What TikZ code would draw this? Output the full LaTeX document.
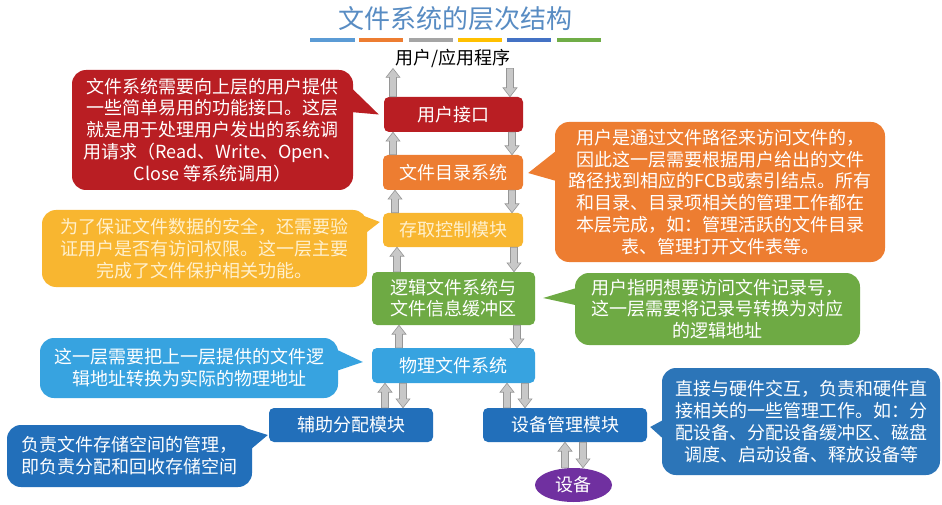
\documentclass[tikz,border=0pt]{standalone}
\usepackage{fontspec}
\setmainfont{Noto Sans CJK SC}
\usetikzlibrary{calc,shapes.geometric}
\definecolor{ctitle}{RGB}{88,140,195}
\definecolor{cred}{RGB}{185,30,35}
\definecolor{corange}{RGB}{237,125,49}
\definecolor{cgold}{RGB}{248,182,48}
\definecolor{cgoldtext}{RGB}{255,240,205}
\definecolor{cgreen}{RGB}{110,170,68}
\definecolor{clblue}{RGB}{55,163,224}
\definecolor{cdblue}{RGB}{34,111,186}
\definecolor{cmblue}{RGB}{44,117,184}
\definecolor{cpurple}{RGB}{112,48,160}
\definecolor{arrfill}{RGB}{200,200,200}
\definecolor{arrline}{RGB}{150,150,150}
\definecolor{bA}{RGB}{91,155,213}
\definecolor{bB}{RGB}{237,125,49}
\definecolor{bC}{RGB}{165,165,165}
\definecolor{bD}{RGB}{255,192,0}
\definecolor{bE}{RGB}{68,114,196}
\definecolor{bF}{RGB}{112,173,71}
\tikzset{
  layer/.style={rounded corners=5pt, inner sep=0pt, text=white, align=center,
    font=\fontsize{18}{21}\selectfont},
  bubble/.style={rounded corners=14pt, inner sep=0pt, text=white, align=center,
    font=\fontsize{18}{21.8}\selectfont},
  garr/.style={fill=arrfill, draw=arrline, line width=0.6pt},
  bar/.style={line width=4pt},
}
\newcommand\garrup[3]{\filldraw[garr] let \p1=(#2), \p2=(#3) in
  (#1pt-3.5pt,\y1) -- (#1pt-3.5pt,\y2-9pt) -- (#1pt-7pt,\y2-9pt) -- (#1pt,\y2)
  -- (#1pt+7pt,\y2-9pt) -- (#1pt+3.5pt,\y2-9pt) -- (#1pt+3.5pt,\y1) -- cycle;}
\newcommand\garrdn[3]{\filldraw[garr] let \p1=(#2), \p2=(#3) in
  (#1pt-3.5pt,\y1) -- (#1pt-3.5pt,\y2+9pt) -- (#1pt-7pt,\y2+9pt) -- (#1pt,\y2)
  -- (#1pt+7pt,\y2+9pt) -- (#1pt+3.5pt,\y2+9pt) -- (#1pt+3.5pt,\y1) -- cycle;}
\begin{document}
\begin{tikzpicture}[x=1pt,y=-1pt]
\useasboundingbox (0,0) rectangle (942,505);
\fill[white] (0,0) rectangle (942,505);

% title and bars
\node[font=\fontsize{26}{30}\selectfont, text=ctitle] (title) at (455,19) {文件系统的层次结构};
\draw[bar,bA] (310,40) -- (355,40);
\draw[bar,bB] (359,40) -- (403,40);
\draw[bar,bC] (409,40) -- (453,40);
\draw[bar,bD] (458,40) -- (502,40);
\draw[bar,bE] (507,40) -- (551,40);
\draw[bar,bF] (557,40) -- (601,40);

\node[font=\fontsize{18}{21}\selectfont, inner sep=1pt] (app) at (453,58) {用户/应用程序};

% layers
\node[layer, fill=cred, minimum width=139pt, minimum height=35pt] (ui) at (453.5,114.5) {用户接口};
\node[layer, fill=corange, minimum width=140pt, minimum height=35pt] (dir) at (453,172.5) {文件目录系统};
\node[layer, fill=cgold, text=cgoldtext, minimum width=140pt, minimum height=34pt] (acc) at (453,230) {存取控制模块};
\node[layer, fill=cgreen, minimum width=163pt, minimum height=53pt] (lfs) at (453.5,298.5) {逻辑文件系统与\\文件信息缓冲区};
\node[layer, fill=clblue, minimum width=163pt, minimum height=35pt] (pfs) at (453.5,365.5) {物理文件系统};
\node[layer, fill=cdblue, minimum width=164pt, minimum height=34pt] (aux) at (351,425) {辅助分配模块};
\node[layer, fill=cdblue, minimum width=164pt, minimum height=34pt] (dev) at (565,425) {设备管理模块};
\node[ellipse, fill=cpurple, text=white, inner sep=0pt, minimum width=77pt, minimum height=34pt,
  font=\fontsize{18}{21}\selectfont] (hw) at (573.5,485) {设备};

% arrows
\garrup{393}{ui.north}{app.south}
\garrdn{510}{app.south}{ui.north}
\garrup{393}{dir.north}{ui.south}
\garrdn{512}{ui.south}{dir.north}
\garrup{395}{acc.north}{dir.south}
\garrdn{512}{dir.south}{acc.north}
\garrup{397}{lfs.north}{acc.south}
\garrdn{514}{acc.south}{lfs.north}
\garrup{399}{pfs.north}{lfs.south}
\garrdn{517}{lfs.south}{pfs.north}
\garrup{385}{aux.north}{pfs.south}
\garrdn{403}{pfs.south}{aux.north}
\garrup{507}{dev.north}{pfs.south}
\garrdn{525}{pfs.south}{dev.north}
\garrup{565}{hw.north}{dev.south}
\garrdn{583}{dev.south}{hw.north}

% callouts
\node[bubble, fill=cred, minimum width=281pt, minimum height=120pt] (n1) at (212.5,130)
  {文件系统需要向上层的用户提供\\一些简单易用的功能接口。这层\\就是用于处理用户发出的系统调\\用请求（Read、Write、Open、\\Close 等系统调用）};
\fill[cred] ($(n1.north east)+(-8,12)$) -- ($(ui.west)+(-5,0)$) -- ($(n1.north east)+(-5,42)$) -- cycle;

\node[bubble, fill=cgold, text=cgoldtext, minimum width=325pt, minimum height=77pt] (n2) at (204.5,248.5)
  {为了保证文件数据的安全，还需要验\\证用户是否有访问权限。这一层主要\\完成了文件保护相关功能。};
\fill[cgold] ($(n2.north east)+(-17,1)$) -- ($(acc.west)+(-3,-8)$) -- ($(n2.north east)+(-5,26)$) -- cycle;

\node[bubble, fill=corange, minimum width=330pt, minimum height=140pt] (n3) at (720,192)
  {用户是通过文件路径来访问文件的，\\因此这一层需要根据用户给出的文件\\路径找到相应的FCB或索引结点。所有\\和目录、目录项相关的管理工作都在\\本层完成，如：管理活跃的文件目录\\表、管理打开文件表等。};
\fill[corange] ($(n3.west)+(5,-44)$) -- ($(dir.east)+(5,0.5)$) -- ($(n3.west)+(5,-10)$) -- cycle;

\node[bubble, fill=cgreen, minimum width=285pt, minimum height=72pt] (n4) at (717.5,309)
  {用户指明想要访问文件记录号，\\这一层需要将记录号转换为对应\\的逻辑地址};
\fill[cgreen] ($(n4.west)+(5,-22)$) -- ($(lfs.east)+(8,-0.5)$) -- ($(n4.west)+(5,-3)$) -- cycle;

\node[bubble, fill=clblue, minimum width=298pt, minimum height=60pt] (n5) at (189,368)
  {这一层需要把上一层提供的文件逻\\辑地址转换为实际的物理地址};
\fill[clblue] ($(n5.east)+(-5,-20)$) -- ($(pfs.west)+(-9,-3.5)$) -- ($(n5.east)+(-5,4)$) -- cycle;

\node[bubble, fill=cdblue, align=left, minimum width=245pt, minimum height=62pt] (n6) at (129.5,456)
  {负责文件存储空间的管理，\\即负责分配和回收存储空间};
\fill[cdblue] ($(n6.north east)+(-14,1)$) -- ($(aux.west)+(-1,10)$) -- ($(n6.north east)+(-2,25)$) -- cycle;

\node[bubble, fill=cmblue, minimum width=278pt, minimum height=107pt] (n7) at (801,421.5)
  {直接与硬件交互，负责和硬件直\\接相关的一些管理工作。如：分\\配设备、分配设备缓冲区、磁盘\\调度、启动设备、释放设备等};
\fill[cmblue] ($(n7.west)+(5,-3.5)$) -- ($(dev.east)+(3,2)$) -- ($(n7.west)+(5,20.5)$) -- cycle;
\end{tikzpicture}
\end{document}
